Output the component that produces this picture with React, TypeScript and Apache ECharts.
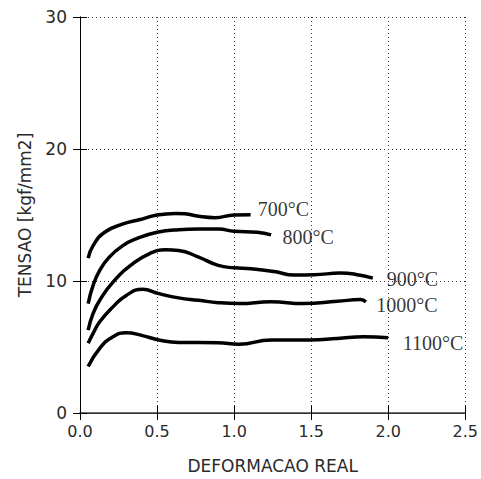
import React, { useEffect, useRef } from "react";
import * as echarts from "echarts";

const xTicks = [0, 0.5, 1.0, 1.5, 2.0, 2.5];
const yTicks = [0, 10, 20, 30];

const strain700 = [0.053, 0.085, 0.16, 0.28, 0.385, 0.5, 0.62, 0.68, 0.77, 0.876, 1.0, 1.107];
const stress700 = [11.73, 12.68, 13.69, 14.32, 14.64, 15.0, 15.12, 15.1, 14.9, 14.8, 15.0, 15.02];

const strain800 = [0.053, 0.085, 0.128, 0.19, 0.278, 0.363, 0.5, 0.64, 0.77, 0.9, 1.0, 1.15, 1.24];
const stress800 = [8.29, 9.67, 10.8, 11.81, 12.68, 13.19, 13.69, 13.89, 13.94, 13.94, 13.76, 13.69, 13.49];

const strain900 = [0.053, 0.085, 0.128, 0.214, 0.342, 0.449, 0.556, 0.64, 0.77, 0.897, 1.0, 1.11, 1.26, 1.39, 1.52, 1.69, 1.79, 1.9];
const stress900 = [6.28, 7.54, 8.54, 9.92, 11.3, 12.06, 12.36, 12.31, 11.81, 11.18, 11.0, 10.93, 10.72, 10.45, 10.47, 10.6, 10.5, 10.22];

const strain1000 = [0.053, 0.085, 0.128, 0.214, 0.3, 0.406, 0.513, 0.64, 0.77, 0.897, 1.03, 1.24, 1.45, 1.67, 1.82, 1.855];
const stress1000 = [5.28, 6.03, 6.91, 8.04, 8.91, 9.37, 9.04, 8.72, 8.54, 8.36, 8.29, 8.42, 8.29, 8.46, 8.59, 8.42];

const strain1100 = [0.053, 0.128, 0.214, 0.3, 0.406, 0.513, 0.64, 0.77, 0.897, 1.03, 1.24, 1.495, 1.67, 1.84, 2.0];
const stress1100 = [3.52, 4.9, 5.78, 6.08, 5.86, 5.53, 5.35, 5.35, 5.33, 5.2, 5.53, 5.53, 5.65, 5.78, 5.7];

const curveNames = ["700°C", "800°C", "900°C", "1000°C", "1100°C"];
const labelX = [1.154, 1.314, 1.99, 1.923, 2.094];
const labelY = [15.45, 13.34, 10.17, 8.16, 5.27];

const xName = "DEFORMACAO REAL";
const yName = "TENSAO [kgf/mm2]";

const curves = [
  [strain700, stress700],
  [strain800, stress800],
  [strain900, stress900],
  [strain1000, stress1000],
  [strain1100, stress1100],
];

export default function App() {
  const ref = useRef<HTMLDivElement>(null);
  useEffect(() => {
    if (!ref.current) return;
    const chart = echarts.init(ref.current, null, { renderer: "svg" });
    const sans = "DejaVu Sans";
    const textColor = "#2a2a2a";
    const lineSeries = curves.map(([xs, ys], i) => ({
      type: "line",
      name: curveNames[i],
      data: xs.map((x, j) => [x, ys[j]]),
      smooth: true,
      showSymbol: false,
      symbol: "none",
      lineStyle: { color: "#000", width: 3.5 },
      z: 3,
    }));
    chart.setOption({
      animation: false,
      backgroundColor: "#fff",
      grid: { left: 80, top: 17, right: 11, bottom: 64 },
      xAxis: [
        {
          type: "value",
          min: xTicks[0],
          max: xTicks[xTicks.length - 1],
          interval: 0.5,
          position: "bottom",
          name: xName,
          nameLocation: "middle",
          nameGap: 44,
          nameTextStyle: { fontFamily: sans, fontSize: 17, color: textColor },
          axisLine: { show: true, lineStyle: { color: "#000", width: 1 } },
          axisTick: { show: true, inside: true, length: 7, lineStyle: { color: "#000" } },
          axisLabel: {
            margin: 10,
            fontFamily: sans,
            fontSize: 16,
            color: textColor,
            formatter: (v: number) => v.toFixed(1),
          },
          splitLine: { show: true, lineStyle: { color: "#333", type: [1, 3], width: 1 } },
        },
        {
          type: "value",
          min: xTicks[0],
          max: xTicks[xTicks.length - 1],
          interval: 0.5,
          position: "top",
          axisLine: { show: true, lineStyle: { color: "#444", width: 1.5 } },
          axisTick: { show: true, inside: true, length: 7, lineStyle: { color: "#000" } },
          axisLabel: { show: false },
          splitLine: { show: false },
        },
      ],
      yAxis: [
        {
          type: "value",
          min: yTicks[0],
          max: yTicks[yTicks.length - 1],
          interval: 10,
          position: "left",
          name: yName,
          nameLocation: "middle",
          nameGap: 47,
          nameTextStyle: { fontFamily: sans, fontSize: 17, color: textColor },
          axisLine: { show: true, lineStyle: { color: "#000", width: 1 } },
          axisTick: { show: true, inside: true, length: 7, lineStyle: { color: "#000" } },
          axisLabel: { margin: 13, fontFamily: sans, fontSize: 17, color: textColor },
          splitLine: { show: true, lineStyle: { color: "#333", type: [1, 3], width: 1 } },
        },
        {
          type: "value",
          min: yTicks[0],
          max: yTicks[yTicks.length - 1],
          interval: 10,
          position: "right",
          axisLine: { show: true, lineStyle: { color: "#000", width: 1 } },
          axisTick: { show: true, inside: true, length: 7, lineStyle: { color: "#000" } },
          axisLabel: { show: false },
          splitLine: { show: false },
        },
      ],
      series: [
        ...lineSeries,
        {
          type: "scatter",
          symbolSize: 0,
          data: labelX.map((x, i) => ({ value: [x, labelY[i]], name: curveNames[i] })),
          label: {
            show: true,
            position: "right",
            distance: 0,
            formatter: (p: any) => p.name,
            fontFamily: "Liberation Serif",
            fontSize: 20,
            color: "#000",
          },
          z: 4,
          silent: true,
        },
      ],
    });
    return () => chart.dispose();
  }, []);
  return (
    <div
      ref={ref}
      style={{ position: "fixed", left: 0, top: 0, width: 481, height: 479, background: "#fff" }}
    />
  );
}
